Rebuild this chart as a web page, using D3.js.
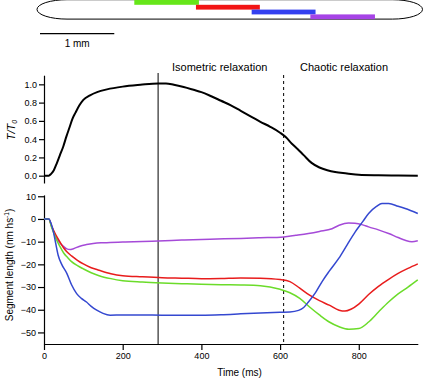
<!DOCTYPE html>
<html><head><meta charset="utf-8">
<script src="https://cdn.jsdelivr.net/npm/d3@7"></script>
<style>
body{margin:0;background:#fff;}
svg{display:block;font-family:"Liberation Sans",Arial,sans-serif;}
</style></head><body>
<svg id="c" width="424" height="379"></svg>
<script>
// ---- data ----
const fiberLengthMm = 5.19;
const segNames = ["green","red","blue","purple"];
const segStartMm = [1.31, 2.14, 2.89, 3.68];
const segEndMm   = [2.18, 3.00, 3.75, 4.55];
const segColors  = ["#66e619","#f21414","#3340f0","#a644e6"];
const lineColors = ["#6bdc2a","#e81c1c","#3448d0","#a54ad8"];

const forceTime = [0,12,18,25,32,40,49,57,65,72,80,90,100,117,135,160,200,245,290,310,330,355,380,400,425,450,475,500,525,550,575,600,615,630,645,660,680,700,720,740,770,800,850,900,950];
const forceVal  = [0,0,0.02,0.06,0.13,0.22,0.32,0.43,0.53,0.62,0.69,0.77,0.83,0.88,0.915,0.945,0.975,0.995,1.01,1.01,0.995,0.97,0.94,0.915,0.87,0.82,0.77,0.71,0.65,0.59,0.535,0.47,0.42,0.35,0.29,0.225,0.14,0.09,0.06,0.04,0.025,0.01,0.004,0.001,0];

const greenTime = [0,12,20,30,40,50,60,70,85,100,120,140,170,200,250,300,350,400,450,500,550,600,625,650,675,700,725,750,775,800,825,850,875,900,925,950];
const greenVal  = [0,0,-4,-8.5,-12,-15,-17,-18.8,-20.6,-22,-23.7,-25,-26.3,-27.2,-27.8,-28.2,-28.5,-28.8,-29,-29.1,-29.4,-31,-32.5,-35,-38.8,-42.3,-45.4,-47.5,-48.6,-48.3,-45.4,-41,-36.7,-33,-30,-26.8];

const redTime = [0,12,20,30,40,50,60,70,85,100,120,140,170,200,250,300,350,400,450,500,550,600,625,650,675,700,725,750,765,780,800,825,850,875,900,925,950];
const redVal  = [0,0,-3.5,-7,-10,-12.8,-14.8,-16.3,-18.2,-19.8,-21.5,-22.6,-24.1,-25,-25.5,-25.9,-26.1,-26.3,-26.2,-26,-26.1,-26.7,-27.6,-30.5,-33.6,-36,-38,-40.2,-40.6,-39.8,-37.5,-33.3,-29.7,-26.7,-24,-21.8,-19.8];

const blueTime = [0,12,18,24,30,36,45,58,70,83,95,108,120,134,150,168,200,250,300,350,400,450,500,550,600,625,647,660,672,690,706,725,749,770,791,810,825,845,859,876,900,918,950];
const blueVal  = [0,0,-2,-5.7,-11,-16,-20,-24,-29,-32.9,-35,-36.6,-38.5,-40.2,-41.6,-42.4,-42.3,-42.3,-42.4,-42.4,-42.4,-42.2,-41.8,-41.4,-41.1,-41,-40.3,-39,-36.6,-32.5,-27.8,-23,-17.4,-11.5,-5.7,-1.2,2.4,5.5,6.8,6.8,5.6,4.6,2.4];

const purpleTime = [0,12,20,32,40,49,58,66,75,91,108,125,145,168,200,250,290,350,422,500,550,609,640,672,700,732,750,774,790,810,825,850,876,900,918,935,950];
const purpleVal  = [0,0,-3.5,-8.6,-10.5,-12,-13.2,-13.5,-13.1,-12,-11.3,-10.8,-10.5,-10.4,-10.2,-9.9,-9.7,-9.3,-8.9,-8.6,-8.3,-7.9,-7.2,-6.4,-5.5,-4.3,-2.8,-1.8,-1.9,-2.6,-3.5,-4.8,-6.4,-8.2,-9.4,-10,-9.6];

const forceTicks = [0,0.2,0.4,0.6,0.8,1.0];
const lengthTicks = [10,0,-10,-20,-30,-40,-50];
const timeTicks = [0,200,400,600,800];
const markerTimes = [290, 609];
const phaseLabels = ["Isometric relaxation","Chaotic relaxation"];

// ---- drawing ----
const svg = d3.select("#c");
const x = d3.scaleLinear().domain([0,950]).range([44,417.8]);
const yF = d3.scaleLinear().domain([-0.08,1.1]).range([183,75.2]);
const yL = d3.scaleLinear().domain([-55.1,10.6]).range([344,194.9]);
const mm = d3.scaleLinear().domain([0,fiberLengthMm]).range([37,422.5]);

// schematic
svg.append("rect").attr("x",mm(0)).attr("y",-0.3).attr("width",mm(fiberLengthMm)-mm(0)).attr("height",19.4)
  .attr("rx",30).attr("ry",9.7).attr("fill","none").attr("stroke","#000").attr("stroke-width",1);
segNames.forEach((n,i)=>{
  svg.append("rect").attr("x",mm(segStartMm[i])).attr("y",i*4.8).attr("width",mm(segEndMm[i])-mm(segStartMm[i]))
    .attr("height",4.8).attr("fill",segColors[i]);
});
// scale bar
svg.append("line").attr("x1",40).attr("x2",40+mm(1)-mm(0)).attr("y1",33.7).attr("y2",33.7)
  .attr("stroke","#000").attr("stroke-width",1.2);
svg.append("text").attr("x",40+(mm(1)-mm(0))/2).attr("y",47).attr("text-anchor","middle")
  .attr("font-size",10).text("1 mm");

// axes
function styleAxis(g){
  g.selectAll("path.domain").attr("stroke","#000").attr("stroke-width",1.2);
  g.selectAll(".tick line").attr("stroke","#000").attr("stroke-width",1.2);
  g.selectAll(".tick text").attr("fill","#000").attr("font-size",9).attr("font-family","Liberation Sans, Arial, sans-serif");
}
svg.append("g").attr("transform","translate(44,0)")
  .call(d3.axisLeft(yF).tickValues(forceTicks).tickFormat(d3.format(".1f")).tickSize(5).tickSizeOuter(0).tickPadding(2))
  .call(styleAxis);
svg.append("g").attr("transform","translate(44,0)")
  .call(d3.axisLeft(yL).tickValues(lengthTicks).tickFormat(d3.format("d")).tickSize(6).tickSizeOuter(0).tickPadding(2))
  .call(styleAxis);
svg.append("g").attr("transform","translate(0,344)")
  .call(d3.axisBottom(x).tickValues(timeTicks).tickFormat(d3.format("d")).tickSize(6).tickSizeOuter(0).tickPadding(3))
  .call(styleAxis);

// marker lines
svg.append("line").attr("x1",x(markerTimes[0])).attr("x2",x(markerTimes[0])).attr("y1",73).attr("y2",344)
  .attr("stroke","#000").attr("stroke-width",1);
svg.append("line").attr("x1",x(markerTimes[1])).attr("x2",x(markerTimes[1])).attr("y1",75).attr("y2",344)
  .attr("stroke","#000").attr("stroke-width",1).attr("stroke-dasharray","3,3");

svg.append("text").attr("x",172).attr("y",71).attr("font-size",11).text(phaseLabels[0]);
svg.append("text").attr("x",300).attr("y",71).attr("font-size",11).text(phaseLabels[1]);

// lines
const lineF = d3.line().x(d=>x(d[0])).y(d=>yF(d[1])).curve(d3.curveMonotoneX);
svg.append("path").datum(forceTime.map((t,i)=>[t,forceVal[i]])).attr("d",lineF)
  .attr("fill","none").attr("stroke","#000").attr("stroke-width",2);

const lineL = d3.line().x(d=>x(d[0])).y(d=>yL(d[1])).curve(d3.curveMonotoneX);
const segData = [[purpleTime,purpleVal,3],[redTime,redVal,1],[greenTime,greenVal,0],[blueTime,blueVal,2]];
segData.forEach(([ts,vs,ci])=>{
  svg.append("path").datum(ts.map((t,i)=>[t,vs[i]])).attr("d",lineL)
    .attr("fill","none").attr("stroke",lineColors[ci]).attr("stroke-width",1.5);
});

// axis titles
const tl = svg.append("text").attr("transform","translate(15,130) rotate(-90)").attr("text-anchor","middle")
  .attr("font-size",11).attr("font-style","italic");
tl.append("tspan").text("T/T");
tl.append("tspan").attr("font-size",7).attr("dy",2).text("0");

const sl = svg.append("text").attr("transform","translate(13,265) rotate(-90)").attr("text-anchor","middle")
  .attr("font-size",10);
sl.append("tspan").text("Segment length (nm hs");
sl.append("tspan").attr("font-size",6.5).attr("dy",-4).text("-1");
sl.append("tspan").attr("dy",4).text(")");

svg.append("text").attr("x",239.5).attr("y",375.5).attr("text-anchor","middle").attr("font-size",10).text("Time (ms)");
</script>
</body></html>
